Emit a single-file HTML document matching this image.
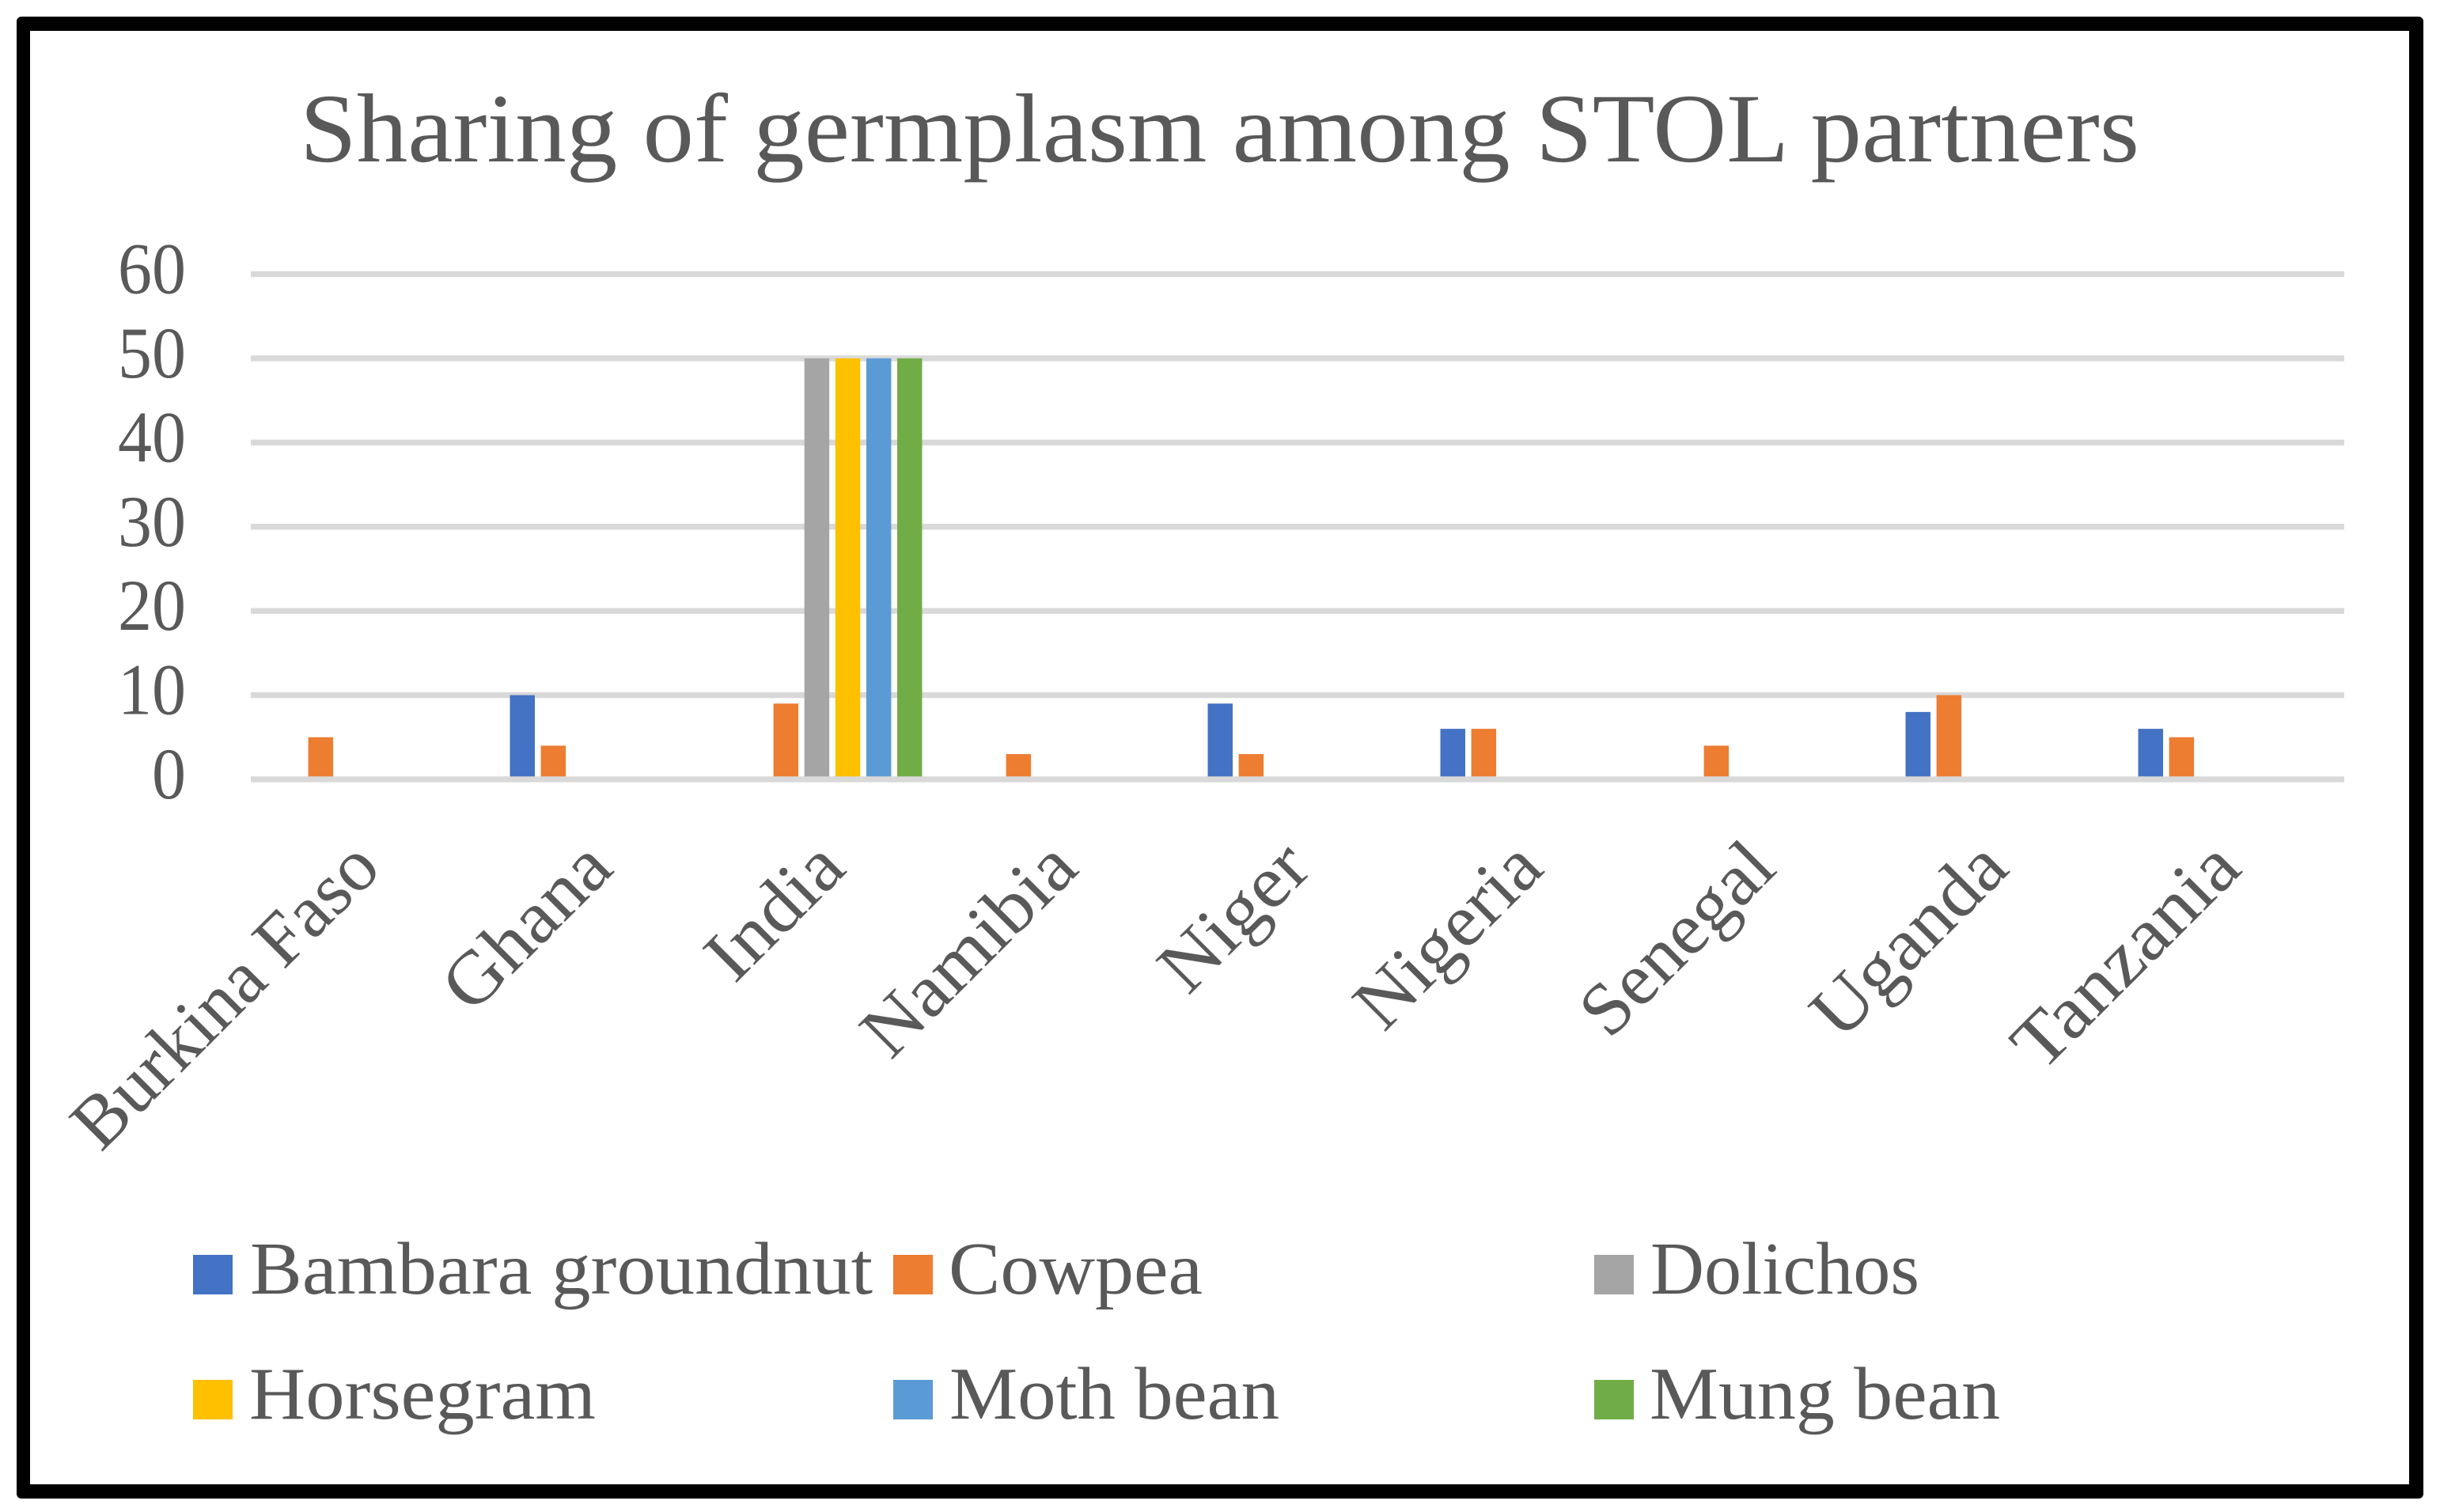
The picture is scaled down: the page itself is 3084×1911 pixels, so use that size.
<!DOCTYPE html>
<html lang="en">
<head>
<meta charset="utf-8">
<title>Sharing of germplasm among STOL partners</title>
<style>
html,body{margin:0;padding:0;background:#fff;width:3084px;height:1911px;overflow:hidden}
svg{display:block}
text{font-family:"Liberation Serif",serif;fill:#595959}
</style>
</head>
<body>
<svg id="chart" xmlns="http://www.w3.org/2000/svg" width="3084" height="1911" viewBox="0 0 3084 1911">
  <rect x="0" y="0" width="3084" height="1911" fill="#fff"/>
  <rect x="21" y="21" width="3042" height="1873" rx="6" ry="6" fill="#000"/>
  <rect x="38" y="39" width="3007" height="1837" fill="#fff"/>
  <text x="379" y="204" font-size="124" textLength="2325" lengthAdjust="spacingAndGlyphs">Sharing of germplasm among STOL partners</text>
  <g id="grid"></g>
  <g id="bars"></g>
  <g id="axis"></g>
  <g id="yticks"></g>
  <g id="xticks"></g>
  <g>
    <g>
      <rect x="244" y="1586" width="50" height="50" fill="#4472c4"/>
      <text x="316" y="1635" font-size="94" textLength="787" lengthAdjust="spacingAndGlyphs">Bambara groundnut</text>
    </g>
    <g>
      <rect x="1129" y="1586" width="50" height="50" fill="#ed7d31"/>
      <text x="1199" y="1635" font-size="94" textLength="321" lengthAdjust="spacingAndGlyphs">Cowpea</text>
    </g>
    <g>
      <rect x="2015" y="1586" width="50" height="50" fill="#a5a5a5"/>
      <text x="2086" y="1635" font-size="94" textLength="340" lengthAdjust="spacingAndGlyphs">Dolichos</text>
    </g>
    <g>
      <rect x="244" y="1744" width="50" height="50" fill="#ffc000"/>
      <text x="315" y="1793" font-size="94" textLength="438" lengthAdjust="spacingAndGlyphs">Horsegram</text>
    </g>
    <g>
      <rect x="1129" y="1744" width="50" height="50" fill="#5b9bd5"/>
      <text x="1200" y="1793" font-size="94" textLength="417" lengthAdjust="spacingAndGlyphs">Moth bean</text>
    </g>
    <g>
      <rect x="2015" y="1744" width="50" height="50" fill="#70ad47"/>
      <text x="2085" y="1793" font-size="94" textLength="443" lengthAdjust="spacingAndGlyphs">Mung bean</text>
    </g>
  </g>
</svg>
<script>
const categories = ["Burkina Faso", "Ghana", "India", "Namibia", "Niger", "Nigeria", "Senegal", "Uganda", "Tanzania"];
const yTicks = [0, 10, 20, 30, 40, 50, 60];
const bambaraGroundnut = [0, 10, 0, 0, 9, 6, 0, 8, 6];
const cowpea = [5, 4, 9, 3, 3, 6, 4, 10, 5];
const dolichos = [0, 0, 50, 0, 0, 0, 0, 0, 0];
const horsegram = [0, 0, 50, 0, 0, 0, 0, 0, 0];
const mothBean = [0, 0, 50, 0, 0, 0, 0, 0, 0];
const mungBean = [0, 0, 50, 0, 0, 0, 0, 0, 0];
const seriesNames = ["bambara-groundnut", "cowpea", "dolichos", "horsegram", "moth-bean", "mung-bean"];
const seriesColors = ["#4472c4", "#ed7d31", "#a5a5a5", "#ffc000", "#5b9bd5", "#70ad47"];
const seriesValues = [bambaraGroundnut, cowpea, dolichos, horsegram, mothBean, mungBean];

const NS = "http://www.w3.org/2000/svg";
const plotLeft = 317, plotRight = 2963, y0 = 985, yMax = 346.5, maxValue = 60;
const barPitch = 39.1, barWidth = 31.5;
const labelStretch = { "Burkina Faso": 0, "Ghana": 12, "India": 10, "Namibia": 16, "Niger": 10, "Nigeria": 8, "Senegal": 5, "Uganda": 13, "Tanzania": 24 };

function yScale(v) { return y0 - (v / maxValue) * (y0 - yMax); }
function catCenter(i) { return plotLeft + (i + 0.5) * (plotRight - plotLeft) / categories.length; }
function make(tag, attrs) {
  const el = document.createElementNS(NS, tag);
  for (const k in attrs) el.setAttribute(k, attrs[k]);
  return el;
}

const grid = document.getElementById("grid");
const axis = document.getElementById("axis");
const yGroup = document.getElementById("yticks");
yTicks.forEach(function (t) {
  const line = make("rect", { x: plotLeft, y: yScale(t) - 3.7, width: plotRight - plotLeft, height: 7.4, fill: "#d9d9d9" });
  
  
  (t === 0 ? axis : grid).appendChild(line);
  const label = make("text", { x: 235, y: yScale(t) + 24, "font-size": 92, "text-anchor": "end", textLength: String(t).length * 43, lengthAdjust: "spacingAndGlyphs" });
  
  
  label.textContent = t;
  yGroup.appendChild(label);
});

const barsGroup = document.getElementById("bars");
seriesValues.forEach(function (vals, s) {
  vals.forEach(function (v, c) {
    if (!v) return;
    const top = yScale(v);
    const x = catCenter(c) + (s - 2.5) * barPitch - barWidth / 2;
    const bar = make("rect", { x: x, y: top, width: barWidth, height: y0 - top, fill: seriesColors[s] });
    
    
    barsGroup.appendChild(bar);
  });
});

const xGroup = document.getElementById("xticks");
categories.forEach(function (name, i) {
  const ax = catCenter(i) + 20, ay = 1101;
  const label = make("text", { x: ax, y: ay, "font-size": 94, "text-anchor": "end", transform: "rotate(-45 " + ax + " " + ay + ")" });
  
  
  label.textContent = name;
  xGroup.appendChild(label);
  const natural = label.getComputedTextLength();
  label.setAttribute("textLength", natural + (labelStretch[name] || 0));
  label.setAttribute("lengthAdjust", "spacingAndGlyphs");
});
</script>
</body>
</html>
